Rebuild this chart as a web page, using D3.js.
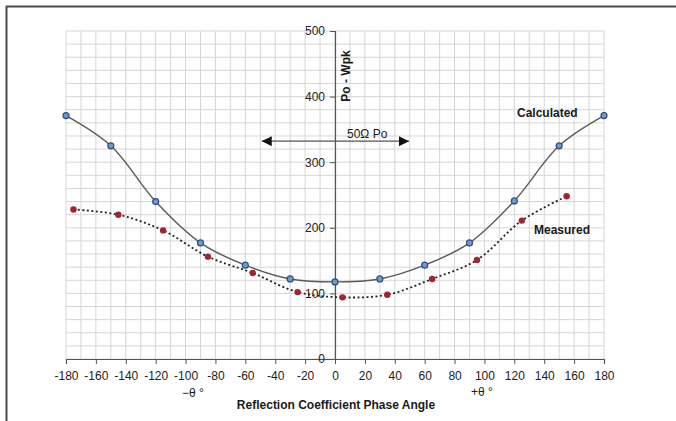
<!DOCTYPE html>
<html>
<head>
<meta charset="utf-8">
<script src="https://cdn.jsdelivr.net/npm/d3@7"></script>
<style>
html,body{margin:0;padding:0;background:#fff;}
svg{display:block;font-family:"Liberation Sans",Arial,Helvetica,sans-serif;}
</style>
</head>
<body>
<svg id="chart" width="676" height="421"></svg>
<script>
// ---- data ----
const calcAngles = [-180,-150,-120,-90,-60,-30,0,30,60,90,120,150,180];
const calcValues = [371,325,240,177,143,122,117.5,122,143,177,241,325,371];
const measAngles = [-175,-145,-115,-85,-55,-25,5,35,65,95,125,155];
const measValues = [228,220,196,156,131,102,94,98,122,151,211,248];
const xTicks = [-180,-160,-140,-120,-100,-80,-60,-40,-20,0,20,40,60,80,100,120,140,160,180];
const yTicks = [0,100,200,300,400,500];
const xGrid = d3.range(-180,181,10);
const yGrid = d3.range(0,501,20);

const svg = d3.select("#chart");
const x = d3.scaleLinear().domain([-180,180]).range([66,604]);
const y = d3.scaleLinear().domain([0,500]).range([359,31]);

// frame
svg.append("line").attr("x1",6).attr("x2",676).attr("y1",6.5).attr("y2",6.5).attr("stroke","#4a4a4a").attr("stroke-width",2);
svg.append("line").attr("x1",6.5).attr("x2",6.5).attr("y1",6).attr("y2",421).attr("stroke","#4a4a4a").attr("stroke-width",2);

// grid
const g = svg.append("g");
g.selectAll(".vg").data(xGrid).join("line")
  .attr("x1",d=>x(d)).attr("x2",d=>x(d)).attr("y1",y(500)).attr("y2",y(0))
  .attr("stroke","#d6d6d6").attr("stroke-width",1);
g.selectAll(".hg").data(yGrid).join("line")
  .attr("x1",x(-180)).attr("x2",x(180)).attr("y1",d=>y(d)).attr("y2",d=>y(d))
  .attr("stroke","#d6d6d6").attr("stroke-width",1);

// axes
const xAxis = svg.append("g").attr("transform",`translate(0,${y(0)})`)
  .call(d3.axisBottom(x).tickValues(xTicks).tickSize(5).tickPadding(7).tickFormat(d=>String(d)));
const yAxis = svg.append("g").attr("transform",`translate(${x(0)},0)`)
  .call(d3.axisLeft(y).tickValues(yTicks).tickSize(5).tickPadding(5).tickFormat(d=>String(d)));
[xAxis,yAxis].forEach(a=>{
  a.select(".domain").attr("stroke","#555").attr("stroke-width",1.2);
  a.selectAll(".tick line").attr("stroke","#555");
  a.selectAll("text").attr("fill","#222").style("font-size","12px").style("font-family","'Liberation Sans',Arial,sans-serif");
});

// lines
const calcData = calcAngles.map((a,i)=>({a, v:calcValues[i]}));
const measData = measAngles.map((a,i)=>({a, v:measValues[i]}));
const line = d3.line().x(d=>x(d.a)).y(d=>y(d.v)).curve(d3.curveCatmullRom.alpha(0.5));

svg.append("path").datum(calcData).attr("d",line)
  .attr("fill","none").attr("stroke","#5a5a5a").attr("stroke-width",1.4);
svg.append("path").datum(measData).attr("d",line)
  .attr("fill","none").attr("stroke","#222").attr("stroke-width",1.8).attr("stroke-dasharray","2,2.5");

svg.selectAll(".cm").data(calcData).join("circle")
  .attr("cx",d=>x(d.a)).attr("cy",d=>y(d.v)).attr("r",3)
  .attr("fill","#6b9bd0").attr("stroke","#2e4f7c").attr("stroke-width",1.2);
svg.selectAll(".mm").data(measData).join("circle")
  .attr("cx",d=>x(d.a)).attr("cy",d=>y(d.v)).attr("r",3.2)
  .attr("fill","#a3232f");

// arrow
const defs = svg.append("defs");
defs.append("marker").attr("id","ah").attr("viewBox","0 0 10 10").attr("refX",10).attr("refY",5)
  .attr("markerWidth",10).attr("markerHeight",10).attr("markerUnits","userSpaceOnUse").attr("orient","auto-start-reverse")
  .append("path").attr("d","M0,0 L10,5 L0,10 Z").attr("fill","#111");
svg.append("line").attr("x1",x(-49)).attr("x2",x(49.5)).attr("y1",y(332)).attr("y2",y(332))
  .attr("stroke","#555").attr("stroke-width",1.3)
  .attr("marker-start","url(#ah)").attr("marker-end","url(#ah)");

// texts
const txt = (t,xx,yy,opts={})=>svg.append("text").attr("x",xx).attr("y",yy).text(t)
  .attr("fill","#1a1a1a").style("font-size",(opts.size||12)+"px")
  .style("font-weight",opts.bold?"bold":"normal").attr("text-anchor",opts.anchor||"start");

txt("50Ω Po",347,138);
txt("Calculated",517,117,{bold:true});
txt("Measured",534,234,{bold:true});
svg.append("text").attr("transform",`translate(350,76) rotate(-90)`).attr("text-anchor","middle")
  .text("Po - Wpk").attr("fill","#1a1a1a").style("font-size","12px").style("font-weight","bold");
txt("−θ °",193,397,{anchor:"middle",size:12});
txt("+θ °",482,396,{anchor:"middle",size:12});
txt("Reflection Coefficient Phase Angle",336,409,{bold:true,anchor:"middle"});
</script>
</body>
</html>
